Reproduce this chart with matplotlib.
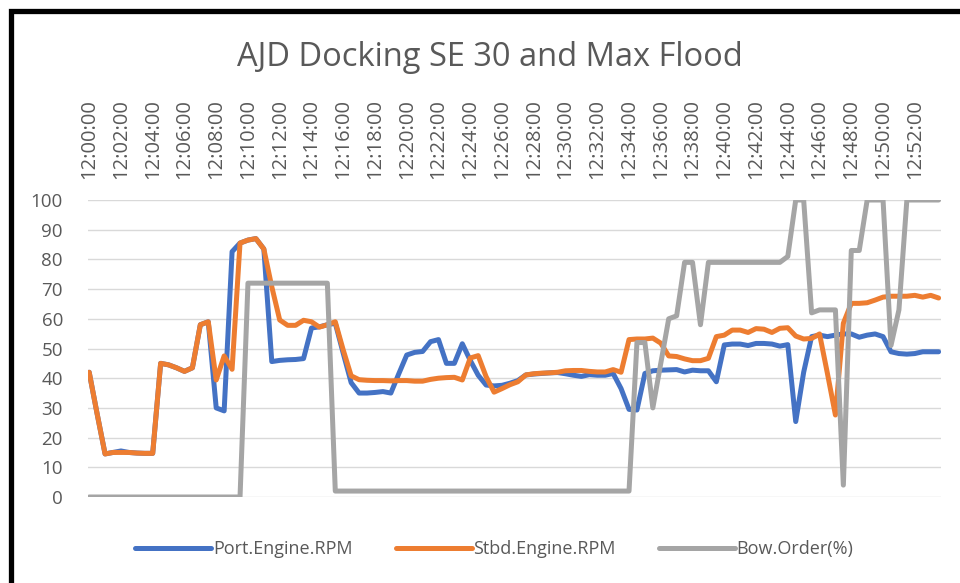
import matplotlib
matplotlib.use("Agg")
import matplotlib.pyplot as plt
from matplotlib.patches import Rectangle
import pandas as pd

# Time categories (30 s sampling, 12:00:00 .. 12:53:30)
times = list(pd.date_range("2020-01-01 12:00:00", periods=108, freq="30s").strftime("%H:%M:%S"))

port_rpm = [
    42, 28, 14.5, 15, 15.5, 15, 14.8, 14.7, 14.7, 45,
    44.5, 43.5, 42.3, 43.5, 58, 59, 30, 29, 82.6, 85.5,
    86.5, 87, 83.5, 45.6, 46, 46.2, 46.3, 46.6, 56.9, 57.3,
    58, 58.5, 48.4, 38.5, 35, 35, 35.2, 35.5, 35, 41.5,
    47.8, 48.7, 49, 52.3, 53, 45, 45, 51.6, 46, 41,
    37.7, 37.4, 37.6, 38.3, 39.2, 41.1, 41.4, 41.6, 41.8, 41.9,
    41.5, 41, 40.6, 41.2, 41, 41, 41.6, 36.5, 29.5, 29.3,
    41.6, 42.5, 42.7, 42.8, 42.9, 42.1, 42.7, 42.5, 42.5, 38.8,
    51.2, 51.5, 51.5, 51, 51.7, 51.7, 51.5, 50.8, 51.3, 25.4,
    42, 54, 54.5, 54, 54.5, 54.9, 54.9, 53.8, 54.5, 54.9,
    54, 48.9, 48.3, 48.1, 48.3, 48.9, 48.9, 48.9,
]

stbd_rpm = [
    42, 28, 14.5, 15, 15, 15, 14.8, 14.7, 14.7, 45,
    44.5, 43.5, 42.3, 43.5, 58, 59, 39.4, 47.5, 43, 85.5,
    86.5, 87, 83.5, 70.8, 59.6, 57.8, 57.8, 59.5, 59, 57.2,
    58, 59, 49.5, 40.8, 39.5, 39.3, 39.2, 39.2, 39.1, 39.2,
    39.2, 39, 39, 39.6, 40, 40.2, 40.3, 39.4, 46.8, 47.6,
    40.5, 35.3, 36.5, 37.8, 38.8, 41.1, 41.5, 41.7, 41.8, 42,
    42.5, 42.6, 42.6, 42.3, 42.1, 42.1, 42.9, 42, 53, 53.2,
    53.2, 53.5, 51.8, 47.5, 47.3, 46.5, 45.9, 45.9, 46.7, 54,
    54.5, 56.2, 56.2, 55.4, 56.7, 56.5, 55.4, 56.8, 57, 54.2,
    53.2, 53.4, 54.9, 41.5, 27.6, 58.5, 65.2, 65.2, 65.4, 66.3,
    67.3, 67.6, 67.6, 67.6, 67.9, 67.3, 67.9, 67,
]

bow_order = (
    [0] * 20 + [72] * 11 + [2] * 38 +
    [52, 52, 30, 45, 60, 61, 79, 79, 58] +
    [79] * 10 + [81, 100, 100, 62, 63, 63, 63, 4, 83, 83,
                 100, 100, 100, 51, 63, 100, 100, 100, 100, 100]
)

series = [
    ("Port.Engine.RPM", port_rpm, "#4472C4"),
    ("Stbd.Engine.RPM", stbd_rpm, "#ED7D31"),
    ("Bow.Order(%)", bow_order, "#A5A5A5"),
]

FONT = ["Open Sans", "DejaVu Sans"]
plt.rcParams["font.family"] = FONT
TXT = "#595959"

fig = plt.figure(figsize=(9.6, 5.83), dpi=100)
ax = fig.add_axes([88 / 960, 1 - 497 / 583, (941 - 88) / 960, (497 - 200) / 583])

x = list(range(len(times)))
for name, vals, col in series:
    ax.plot(x[:len(vals)], vals, color=col, lw=3.6, label=name,
            solid_joinstyle="round", solid_capstyle="round")

ax.set_ylim(0, 100)
ax.set_yticks(range(0, 101, 10))
ax.set_xlim(-0.15, 107.3)
ax.set_xticks(x[::4])
ax.set_xticklabels(times[::4])
ax.xaxis.tick_top()
ax.tick_params(axis="x", length=0, labelrotation=90, pad=15, labelsize=14.5, labelcolor=TXT)
ax.tick_params(axis="y", length=0, pad=18, labelsize=13.5, labelcolor=TXT)
ax.grid(axis="y", color="#D9D9D9", lw=1)
ax.set_axisbelow(True)
for s in ax.spines.values():
    s.set_visible(False)

fig.text(0.51, 1 - 57 / 583, "AJD Docking SE 30 and Max Flood", ha="center", va="center",
         fontsize=23.5, color=TXT)

fig.legend(loc="center", bbox_to_anchor=(0.515, 1 - 549 / 583), ncol=3, frameon=False,
           fontsize=13, handlelength=4.2, columnspacing=2.4, handletextpad=0.1,
           labelcolor=TXT)

# Black frame (top and left edges visible)
fig.add_artist(Rectangle((10.5 / 960, -0.1), 1.2, 1 - 11.5 / 583 + 0.1,
                         transform=fig.transFigure, fill=False, edgecolor="black", lw=3.8))

fig.savefig("out.png", dpi=100, facecolor="white")
